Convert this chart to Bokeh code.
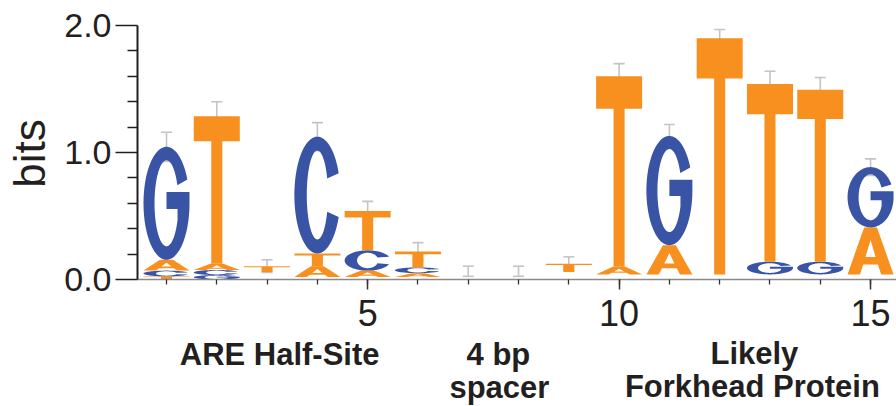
import numpy as np
from bokeh.plotting import figure
from bokeh.models import (ColumnDataSource, FixedTicker, PrintfTickFormatter,
                          Whisker, TeeHead, Label, Range1d, LinearAxis)
from bokeh.embed import file_html
from bokeh.resources import INLINE

# ---------------- data (bits per letter per position) ----------------
positions = list(range(1, 16))
bits_A = [0.085, 0.05, 0.02, 0.085, 0.05, 0.03, 0.015, 0.015, 0.02, 0.06, 0.23, 0.013, 0.02, 0.02, 0.37]
bits_C = [0.045, 0.04, 0.02, 0.92, 0.16, 0.045, 0.02, 0.015, 0.02, 0.02, 0.02, 0.013, 0.02, 0.02, 0.02]
bits_G = [0.89, 0.035, 0.02, 0.02, 0.02, 0.02, 0.015, 0.02, 0.02, 0.02, 0.86, 0.013, 0.10, 0.10, 0.475]
bits_T = [0.025, 1.16, 0.045, 0.10, 0.31, 0.125, 0.015, 0.015, 0.065, 1.50, 0.02, 1.86, 1.40, 1.355, 0.02]
err_half = [0.115, 0.115, 0.05, 0.11, 0.075, 0.07, 0.04, 0.04, 0.053, 0.10, 0.09, 0.07, 0.10, 0.095, 0.065]

x_tick_labels = [5, 10, 15]
y_tick_labels = [0.0, 1.0, 2.0]
y_minor = [0.2, 0.4, 0.6, 0.8, 1.2, 1.4, 1.6, 1.8]

region_texts = ["ARE Half-Site", "4 bp", "spacer", "Likely", "Forkhead Protein"]
region_x = [3.25, 7.6, 7.62, 12.69, 12.65]
region_y = [-0.59, -0.59, -0.852, -0.585, -0.846]

ORANGE = "#F7901E"
BLUE = "#3A54A5"
colors = {"A": ORANGE, "T": ORANGE, "C": BLUE, "G": BLUE}

# axis placement (data coordinates of the axis lines)
X_LO = 0.4235
Y_LO, Y_HI = 0.0, 2.0

# ---------------- letter shapes in a unit box ----------------
def ell(cx, cy, rx, ry, angs):
    a = np.radians(angs)
    return cx + rx * np.cos(a), cy + ry * np.sin(a)

def shape_C():
    tx, ty = 0.27, 0.12
    ox, oy = ell(0.5, 0.5, 0.5, 0.5, np.linspace(22, 338, 80))
    ix, iy = ell(0.5, 0.5, 0.5 - tx, 0.5 - ty, np.linspace(338, 22, 80))
    return [[list(np.r_[ox, ix])], [list(np.r_[oy, iy])]]

def shape_G():
    tx, ty = 0.24, 0.12
    rxi, ryi = 0.5 - tx, 0.5 - ty
    ox, oy = ell(0.5, 0.5, 0.5, 0.5, np.linspace(25, 360, 90))
    stem_x = 0.74
    a_int = -np.degrees(np.arccos((stem_x - 0.5) / rxi))
    ix, iy = ell(0.5, 0.5, rxi, ryi, np.linspace(360 + a_int, 25, 90))
    xs = list(np.r_[ox, [1.0, 1.0, 0.50, 0.50, stem_x, stem_x], ix])
    ys = list(np.r_[oy, [0.5, 0.60, 0.60, 0.45, 0.45, 0.5 + ryi * np.sin(np.radians(a_int))], iy])
    return [[xs], [ys]]

def shape_A():
    ox = [0, 0.36, 0.64, 1.0, 0.73, 0.66, 0.34, 0.27]
    oy = [0, 1.0, 1.0, 0.0, 0.0, 0.21, 0.21, 0.0]
    hx = [0.39, 0.61, 0.5]
    hy = [0.37, 0.37, 0.73]
    return [[ox, hx], [oy, hy]]

def shape_T():
    xs = [0, 1, 1, 0.62, 0.62, 0.38, 0.38, 0]
    ys = [1, 1, 0.83, 0.83, 0, 0, 0.83, 0.83]
    return [[xs], [ys]]

shapes = {"A": shape_A(), "C": shape_C(), "G": shape_G(), "T": shape_T()}

# ---------------- build stacks ----------------
LETTER_W = 0.915
MIN_DRAW = 0.021
all_xs, all_ys, all_col = [], [], []
tops = []
for i, pos in enumerate(positions):
    vals = [("A", bits_A[i]), ("C", bits_C[i]), ("G", bits_G[i]), ("T", bits_T[i])]
    vals = sorted(vals, key=lambda t: t[1])
    y0 = 0.0
    for letter, h in vals:
        if h >= MIN_DRAW:
            rx, ry = shapes[letter]
            px = [[list(pos - LETTER_W / 2 + np.asarray(r) * LETTER_W) for r in rx]]
            py = [[list(y0 + np.asarray(r) * h) for r in ry]]
            all_xs.append(px)
            all_ys.append(py)
            all_col.append(colors[letter])
        y0 += h
    tops.append(y0)

letters_src = ColumnDataSource(dict(xs=all_xs, ys=all_ys, color=all_col))
err_src = ColumnDataSource(dict(
    x=positions,
    upper=[t + e for t, e in zip(tops, err_half)],
    lower=[t - e for t, e in zip(tops, err_half)],
))

# ---------------- figure ----------------
W, H = 896, 406
PX_X, PX_Y = 50.29, 127.0          # pixels per data unit
FRAME_L, FRAME_T = 137, 25          # pixel position of the axes corner region
x0 = X_LO - FRAME_L / PX_X
y1 = Y_HI + FRAME_T / PX_Y
p = figure(width=W, height=H, output_backend="svg", toolbar_location=None,
           x_range=Range1d(x0, x0 + W / PX_X), y_range=Range1d(y1 - H / PX_Y, y1),
           x_axis_type=None, y_axis_type=None, min_border=0)
p.outline_line_color = None
p.background_fill_color = "white"

p.multi_polygons(xs="xs", ys="ys", fill_color="color", line_color=None, source=letters_src)

gray = "#C4C4C4"
wh = Whisker(base="x", upper="upper", lower="lower", source=err_src,
             line_color=gray, line_width=1.6,
             upper_head=TeeHead(size=11, line_color=gray, line_width=1.6),
             lower_head=TeeHead(size=11, line_color=gray, line_width=1.6))
p.add_layout(wh)

# y axis
ya = LinearAxis(fixed_location=X_LO, bounds=(Y_LO, Y_HI))
ya.ticker = FixedTicker(ticks=y_tick_labels, minor_ticks=y_minor)
ya.formatter = PrintfTickFormatter(format="%.1f")
ya.axis_line_color = "#231F20"
ya.axis_line_width = 2
ya.major_tick_line_color = "#231F20"
ya.major_tick_line_width = 1.6
ya.minor_tick_line_color = "#231F20"
ya.minor_tick_line_width = 1.6
ya.major_tick_out = 22
ya.major_tick_in = 0
ya.minor_tick_out = 10
ya.minor_tick_in = 0
ya.major_label_standoff = 4
ya.major_label_text_font = "Liberation Sans"
ya.major_label_text_font_size = "34px"
ya.major_label_text_color = "#231F20"
p.add_layout(ya, "left")

# x axis
xa = LinearAxis(fixed_location=Y_LO, bounds=(X_LO, x0 + W / PX_X))
xa.ticker = FixedTicker(ticks=x_tick_labels, minor_ticks=positions)
xa.axis_line_color = "#8A8A8A"
xa.axis_line_width = 1.3
xa.major_tick_line_color = "#333333"
xa.major_tick_line_width = 1.5
xa.minor_tick_line_color = "#333333"
xa.minor_tick_line_width = 1.3
xa.major_tick_out = 10
xa.major_tick_in = 0
xa.minor_tick_out = 5
xa.minor_tick_in = 0
xa.major_label_standoff = 10
xa.major_label_text_font = "Liberation Sans"
xa.major_label_text_font_size = "36px"
xa.major_label_text_color = "#231F20"
p.add_layout(xa, "below")

# y axis title
p.add_layout(Label(x=-1.724, y=0.992, text="bits", angle=np.pi / 2,
                   text_align="center", text_baseline="middle",
                   text_font="Liberation Sans", text_font_size="44px",
                   text_color="#231F20"))

# region annotations
for t, rx, ry in zip(region_texts, region_x, region_y):
    p.add_layout(Label(x=rx, y=ry, text=t, text_align="center",
                       text_baseline="alphabetic", text_font="Liberation Sans",
                       text_font_style="bold", text_font_size="31px",
                       text_color="#231F20"))

open("out.html", "w").write(file_html(p, INLINE))
